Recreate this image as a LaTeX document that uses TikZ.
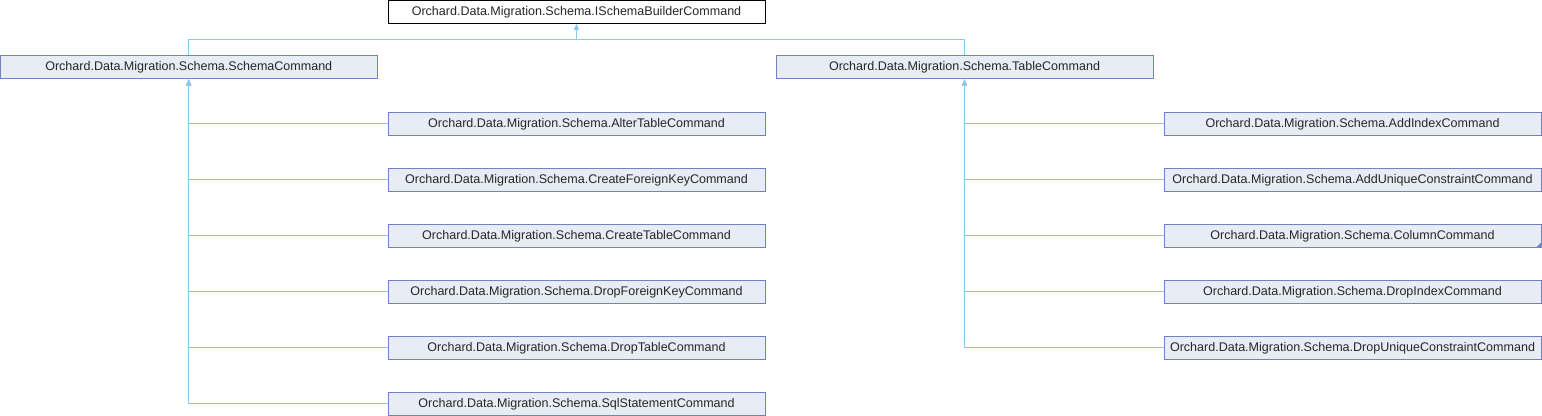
\documentclass[tikz,border=0pt]{standalone}
\usepackage{fontspec}
\setmainfont{Liberation Sans}
\usetikzlibrary{arrows.meta}
\definecolor{boxfill}{RGB}{232,236,245}
\definecolor{boxdraw}{RGB}{110,132,196}
\definecolor{edge}{RGB}{140,200,235}
\begin{document}
\begin{tikzpicture}[x=0.75pt,y=-0.75pt,
  cls/.style={draw=boxdraw,fill=boxfill,line width=0.75pt,minimum width=282.75pt,minimum height=17.25pt,inner sep=0pt,font=\fontsize{9.4pt}{11pt}\selectfont\color{black!85}},
  root/.style={cls,draw=black,fill=white},
  inh/.style={draw=edge,line width=0.75pt,-{Triangle[length=4.5pt,width=3.6pt,fill=edge]}}]
\useasboundingbox (0,0) rectangle (1542,416);
\node[root] (top) at (576.5,12) {Orchard.Data.Migration.Schema.ISchemaBuilderCommand};
\node[cls] (sc) at (188.75,67.5) {Orchard.Data.Migration.Schema.SchemaCommand};
\node[cls] (tc) at (964.5,67.5) {Orchard.Data.Migration.Schema.TableCommand};
\node[cls] (alt) at (576.5,124) {Orchard.Data.Migration.Schema.AlterTableCommand};
\node[cls] (cfk) at (576.5,180) {Orchard.Data.Migration.Schema.CreateForeignKeyCommand};
\node[cls] (ct) at (576.5,236) {Orchard.Data.Migration.Schema.CreateTableCommand};
\node[cls] (dfk) at (576.5,292) {Orchard.Data.Migration.Schema.DropForeignKeyCommand};
\node[cls] (dt) at (576.5,348) {Orchard.Data.Migration.Schema.DropTableCommand};
\node[cls] (sql) at (576.5,404) {Orchard.Data.Migration.Schema.SqlStatementCommand};
\node[cls] (aic) at (1352.5,124) {Orchard.Data.Migration.Schema.AddIndexCommand};
\node[cls] (auc) at (1352.5,180) {Orchard.Data.Migration.Schema.AddUniqueConstraintCommand};
\node[cls] (col) at (1352.5,236) {Orchard.Data.Migration.Schema.ColumnCommand};
\node[cls] (dic) at (1352.5,292) {Orchard.Data.Migration.Schema.DropIndexCommand};
\node[cls] (duc) at (1352.5,348) {Orchard.Data.Migration.Schema.DropUniqueConstraintCommand};
\fill[boxdraw] (col.south east) -- ++(-6,0) -- ++(6,-6) -- cycle;
\draw[inh] (sc.north) -- ++(0,-16) -| (top.south);
\draw[inh] (tc.north) -- ++(0,-16) -| (top.south);
\foreach \c in {alt,cfk,ct,dfk,dt,sql} \draw[inh] (\c.west) -| (sc.south);
\foreach \c in {aic,auc,col,dic,duc} \draw[inh] (\c.west) -| (tc.south);
\end{tikzpicture}
\end{document}
